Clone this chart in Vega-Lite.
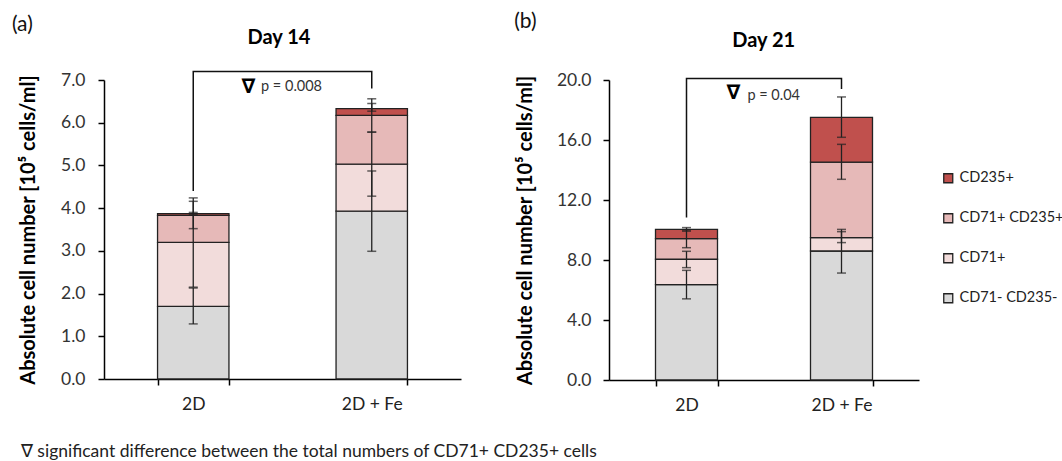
{
  "$schema": "https://vega.github.io/schema/vega-lite/v6.json",
  "padding": {"left": 11, "top": 11, "right": 0, "bottom": 4},
  "background": "white",
  "config": {
    "view": {"stroke": null},
    "font": "Lato",
    "axis": {
      "domainColor": "#000", "domainWidth": 1.5, "tickColor": "#000", "tickWidth": 1.5, "tickSize": 6,
      "labelFont": "Lato", "labelFontSize": 17.5, "labelColor": "#333", "grid": false,
      "titleFont": "Lato", "titleFontWeight": "bold", "titleFontSize": 20, "titleColor": "#000"
    }
  },
  "datasets": {
    "segA": [
      {"cond": "2D", "cat": "CD71- CD235-", "y0": 0, "y1": 1.7, "lo": 1.29, "hi": 2.13},
      {"cond": "2D", "cat": "CD71+", "y0": 1.7, "y1": 3.2, "lo": 2.15, "hi": 4.24},
      {"cond": "2D", "cat": "CD71+ CD235+", "y0": 3.2, "y1": 3.83, "lo": 3.52, "hi": 4.16},
      {"cond": "2D", "cat": "CD235+", "y0": 3.83, "y1": 3.87, "lo": 3.85, "hi": 3.9},
      {"cond": "2D + Fe", "cat": "CD71- CD235-", "y0": 0, "y1": 3.93, "lo": 2.99, "hi": 4.87},
      {"cond": "2D + Fe", "cat": "CD71+", "y0": 3.93, "y1": 5.03, "lo": 4.28, "hi": 5.78},
      {"cond": "2D + Fe", "cat": "CD71+ CD235+", "y0": 5.03, "y1": 6.17, "lo": 5.78, "hi": 6.56},
      {"cond": "2D + Fe", "cat": "CD235+", "y0": 6.17, "y1": 6.33, "lo": 6.27, "hi": 6.45}
    ],
    "segB": [
      {"cond": "2D", "cat": "CD71- CD235-", "y0": 0, "y1": 6.36, "lo": 5.41, "hi": 7.31},
      {"cond": "2D", "cat": "CD71+", "y0": 6.36, "y1": 8.05, "lo": 7.49, "hi": 8.58},
      {"cond": "2D", "cat": "CD71+ CD235+", "y0": 8.05, "y1": 9.42, "lo": 8.82, "hi": 10.0},
      {"cond": "2D", "cat": "CD235+", "y0": 9.42, "y1": 10.04, "lo": 9.92, "hi": 10.16},
      {"cond": "2D + Fe", "cat": "CD71- CD235-", "y0": 0, "y1": 8.6, "lo": 7.13, "hi": 10.04},
      {"cond": "2D + Fe", "cat": "CD71+", "y0": 8.6, "y1": 9.49, "lo": 9.16, "hi": 9.89},
      {"cond": "2D + Fe", "cat": "CD71+ CD235+", "y0": 9.49, "y1": 14.53, "lo": 13.38, "hi": 15.71},
      {"cond": "2D + Fe", "cat": "CD235+", "y0": 14.53, "y1": 17.51, "lo": 16.18, "hi": 18.87}
    ],
    "brA": [
      {"cond": "2D", "y": 4.4, "o": 1},
      {"cond": "2D", "y": 7.2, "o": 2},
      {"cond": "2D + Fe", "y": 7.2, "o": 3},
      {"cond": "2D + Fe", "y": 6.8, "o": 4}
    ],
    "brB": [
      {"cond": "2D", "y": 10.83, "o": 1},
      {"cond": "2D", "y": 20.1, "o": 2},
      {"cond": "2D + Fe", "y": 20.1, "o": 3},
      {"cond": "2D + Fe", "y": 19.4, "o": 4}
    ]
  },
  "title": {
    "text": "∇ significant difference between the total numbers of CD71+ CD235+ cells",
    "orient": "bottom", "anchor": "start", "font": "Lato", "fontSize": 17.5, "fontWeight": "normal",
    "color": "#222", "offset": 29, "dx": 9
  },
  "columns": 2,
  "align": "none",
  "spacing": 53,
  "resolve": {"scale": {"color": "independent"}},
  "concat": [
    {
      "width": 357, "height": 299,
      "layer": [
        {
          "data": {"name": "segA"},
          "mark": {"type": "bar", "stroke": "#222", "strokeWidth": 1.3},
          "encoding": {
            "x": {"field": "cond", "type": "nominal", "title": null,
              "scale": {"domain": ["2D", "2D + Fe"], "paddingInner": 0.6, "paddingOuter": 0.3},
              "axis": {"labelAngle": 0, "tickBand": "extent", "labelPadding": 10, "labelColor": "#222"}},
            "y": {"field": "y1", "type": "quantitative", "scale": {"domain": [0, 7], "nice": false},
              "axis": {"values": [0, 1, 2, 3, 4, 5, 6, 7], "format": ".1f", "labelPadding": 13, "titlePadding": 22,
                "title": "Absolute cell number [10⁵ cells/ml]"}},
            "y2": {"field": "y0"},
            "color": {"field": "cat", "type": "nominal", "legend": null,
              "scale": {"domain": ["CD235+", "CD71+ CD235+", "CD71+", "CD71- CD235-"],
                "range": ["#C0504D", "#E6B9B8", "#F2DCDB", "#D9D9D9"]}}
          }
        },
        {
          "data": {"name": "segA"},
          "mark": {"type": "rule", "color": "#222", "strokeWidth": 1.3},
          "encoding": {
            "x": {"field": "cond", "type": "nominal"},
            "y": {"field": "lo", "type": "quantitative"},
            "y2": {"field": "hi"}
          }
        },
        {
          "data": {"name": "segA"},
          "mark": {"type": "tick", "orient": "horizontal", "color": "#222", "size": 9, "thickness": 1.5},
          "encoding": {
            "x": {"field": "cond", "type": "nominal"},
            "y": {"field": "lo", "type": "quantitative"}
          }
        },
        {
          "data": {"name": "segA"},
          "mark": {"type": "tick", "orient": "horizontal", "color": "#222", "size": 9, "thickness": 1.5},
          "encoding": {
            "x": {"field": "cond", "type": "nominal"},
            "y": {"field": "hi", "type": "quantitative"}
          }
        },
        {
          "data": {"name": "brA"},
          "mark": {"type": "line", "color": "#111", "strokeWidth": 1.5},
          "encoding": {
            "x": {"field": "cond", "type": "nominal"},
            "y": {"field": "y", "type": "quantitative"},
            "order": {"field": "o", "type": "quantitative"}
          }
        },
        {
          "data": {"values": [{"label": "(a)"}]},
          "mark": {"type": "text", "font": "Lato", "fontSize": 21, "align": "left", "baseline": "middle", "color": "#111"},
          "encoding": {
            "x": {"datum": "2D", "type": "nominal", "bandPosition": -2.04},
            "y": {"datum": 8.29, "type": "quantitative"},
            "text": {"field": "label"}
          }
        },
        {
          "data": {"values": [{"label": "Day 14"}]},
          "mark": {"type": "text", "font": "Lato", "fontSize": 20, "fontWeight": "bold", "align": "center", "baseline": "middle", "color": "#000"},
          "encoding": {
            "x": {"datum": "2D", "type": "nominal", "bandPosition": 1.70},
            "y": {"datum": 7.98, "type": "quantitative"},
            "text": {"field": "label"}
          }
        },
        {
          "data": {"values": [{"label": "∇"}]},
          "mark": {"type": "text", "font": "DejaVu Sans", "fontSize": 20, "fontWeight": "bold", "align": "center", "baseline": "middle", "color": "#000"},
          "encoding": {
            "x": {"datum": "2D", "type": "nominal", "bandPosition": 1.274},
            "y": {"datum": 6.84, "type": "quantitative"},
            "text": {"field": "label"}
          }
        },
        {
          "data": {"values": [{"label": "p = 0.008"}]},
          "mark": {"type": "text", "font": "Lato", "fontSize": 14.5, "align": "left", "baseline": "middle", "color": "#333"},
          "encoding": {
            "x": {"datum": "2D", "type": "nominal", "bandPosition": 1.449},
            "y": {"datum": 6.84, "type": "quantitative"},
            "text": {"field": "label"}
          }
        }
      ]
    },
    {
      "width": 310, "height": 300,
      "layer": [
        {
          "data": {"name": "segB"},
          "mark": {"type": "bar", "stroke": "#222", "strokeWidth": 1.3},
          "encoding": {
            "x": {"field": "cond", "type": "nominal", "title": null,
              "scale": {"domain": ["2D", "2D + Fe"], "paddingInner": 0.6, "paddingOuter": 0.3},
              "axis": {"labelAngle": 0, "tickBand": "extent", "labelPadding": 10, "labelColor": "#222"}},
            "y": {"field": "y1", "type": "quantitative", "scale": {"domain": [0, 20], "nice": false},
              "axis": {"values": [0, 4, 8, 12, 16, 20], "format": ".1f", "labelPadding": 12, "titlePadding": 21,
                "title": "Absolute cell number [10⁵ cells/ml]"}},
            "y2": {"field": "y0"},
            "color": {"field": "cat", "type": "nominal",
              "scale": {"domain": ["CD235+", "CD71+ CD235+", "CD71+", "CD71- CD235-"],
                "range": ["#C0504D", "#E6B9B8", "#F2DCDB", "#D9D9D9"]},
              "legend": {"orient": "none", "legendX": 332, "legendY": 91, "title": null,
                "symbolType": "square", "symbolSize": 81, "symbolStrokeColor": "#222", "symbolStrokeWidth": 1.3,
                "labelFont": "Lato", "labelFontSize": 14.5, "labelColor": "#222", "rowPadding": 24, "labelOffset": 4}}
          }
        },
        {
          "data": {"name": "segB"},
          "mark": {"type": "rule", "color": "#222", "strokeWidth": 1.3},
          "encoding": {
            "x": {"field": "cond", "type": "nominal"},
            "y": {"field": "lo", "type": "quantitative"},
            "y2": {"field": "hi"}
          }
        },
        {
          "data": {"name": "segB"},
          "mark": {"type": "tick", "orient": "horizontal", "color": "#222", "size": 9, "thickness": 1.5},
          "encoding": {
            "x": {"field": "cond", "type": "nominal"},
            "y": {"field": "lo", "type": "quantitative"}
          }
        },
        {
          "data": {"name": "segB"},
          "mark": {"type": "tick", "orient": "horizontal", "color": "#222", "size": 9, "thickness": 1.5},
          "encoding": {
            "x": {"field": "cond", "type": "nominal"},
            "y": {"field": "hi", "type": "quantitative"}
          }
        },
        {
          "data": {"name": "brB"},
          "mark": {"type": "line", "color": "#111", "strokeWidth": 1.5},
          "encoding": {
            "x": {"field": "cond", "type": "nominal"},
            "y": {"field": "y", "type": "quantitative"},
            "order": {"field": "o", "type": "quantitative"}
          }
        },
        {
          "data": {"values": [{"label": "(b)"}]},
          "mark": {"type": "text", "font": "Lato", "fontSize": 21, "align": "left", "baseline": "middle", "color": "#111"},
          "encoding": {
            "x": {"datum": "2D", "type": "nominal", "bandPosition": -2.28},
            "y": {"datum": 23.85, "type": "quantitative"},
            "text": {"field": "label"}
          }
        },
        {
          "data": {"values": [{"label": "Day 21"}]},
          "mark": {"type": "text", "font": "Lato", "fontSize": 20, "fontWeight": "bold", "align": "center", "baseline": "middle", "color": "#000"},
          "encoding": {
            "x": {"datum": "2D", "type": "nominal", "bandPosition": 1.745},
            "y": {"datum": 22.6, "type": "quantitative"},
            "text": {"field": "label"}
          }
        },
        {
          "data": {"values": [{"label": "∇"}]},
          "mark": {"type": "text", "font": "DejaVu Sans", "fontSize": 20, "fontWeight": "bold", "align": "center", "baseline": "middle", "color": "#000"},
          "encoding": {
            "x": {"datum": "2D", "type": "nominal", "bandPosition": 1.256},
            "y": {"datum": 19.11, "type": "quantitative"},
            "text": {"field": "label"}
          }
        },
        {
          "data": {"values": [{"label": "p = 0.04"}]},
          "mark": {"type": "text", "font": "Lato", "fontSize": 14.5, "align": "left", "baseline": "middle", "color": "#333"},
          "encoding": {
            "x": {"datum": "2D", "type": "nominal", "bandPosition": 1.482},
            "y": {"datum": 18.93, "type": "quantitative"},
            "text": {"field": "label"}
          }
        }
      ]
    }
  ]
}
